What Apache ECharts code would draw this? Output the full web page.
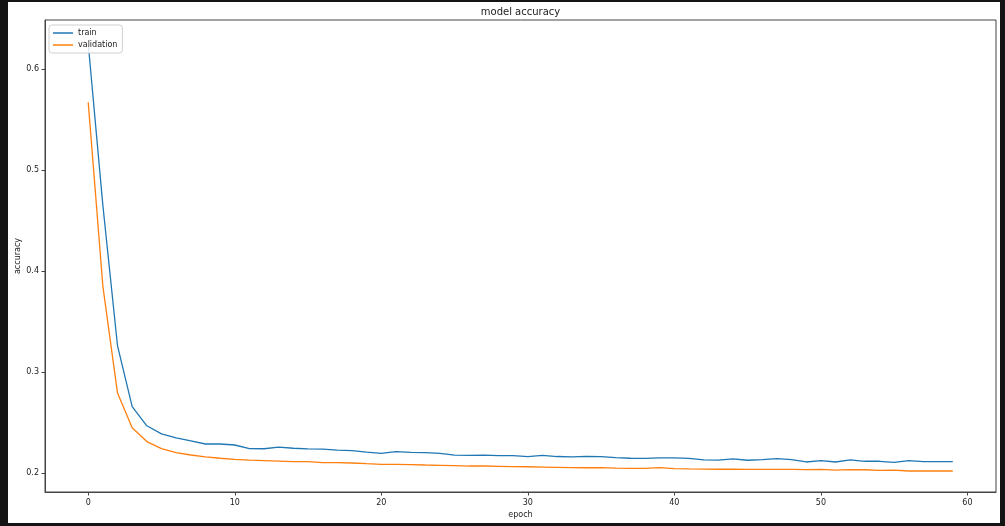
<!DOCTYPE html>
<html>
<head>
<meta charset="utf-8">
<script src="https://cdn.jsdelivr.net/npm/echarts@6/dist/echarts.min.js"></script>
<style>
  html, body { margin: 0; padding: 0; background: #141414; }
  #chart { position: absolute; left: 8px; top: 2px; width: 992px; height: 521px; background: #fff; }
</style>
</head>
<body>
<div id="chart"></div>
<script>
// model accuracy per epoch
var epochs = [];
for (var i = 0; i < 60; i++) epochs.push(i);

var train = [
  0.625, 0.465, 0.326, 0.266, 0.247, 0.239, 0.235, 0.232, 0.229, 0.229,
  0.228, 0.2245, 0.2243, 0.226, 0.2248, 0.2241, 0.224, 0.223, 0.2225, 0.221,
  0.2197, 0.2214, 0.2208, 0.2204, 0.2198, 0.2179, 0.2178, 0.218, 0.2175, 0.2174,
  0.2166, 0.2177, 0.2166, 0.2163, 0.2168, 0.2165, 0.2156, 0.2149, 0.2148, 0.2152,
  0.2152, 0.2148, 0.2132, 0.213, 0.2142, 0.2129, 0.2136, 0.2146, 0.2136, 0.2112,
  0.2125, 0.2112, 0.2132, 0.2119, 0.2119, 0.2109, 0.2125, 0.2115, 0.2115, 0.2115
];

var validation = [
  0.567, 0.385, 0.2794, 0.245, 0.2314, 0.2245, 0.2205, 0.2181, 0.2162, 0.2149,
  0.2137, 0.213, 0.2125, 0.212, 0.2115, 0.2115, 0.2105, 0.2105, 0.2102, 0.2095,
  0.2089, 0.2089, 0.2086, 0.2082, 0.2079, 0.2076, 0.2072, 0.2072, 0.2069, 0.2066,
  0.2065, 0.2062, 0.2059, 0.2056, 0.2055, 0.2056, 0.2051, 0.2049, 0.2049, 0.2056,
  0.2046, 0.2043, 0.2042, 0.204, 0.204, 0.2039, 0.2039, 0.2038, 0.2038, 0.2036,
  0.2038, 0.2032, 0.2036, 0.2035, 0.2029, 0.2032, 0.2023, 0.2023, 0.2023, 0.2023
];

var xTicks = [0, 10, 20, 30, 40, 50, 60];
var yTicks = [0.2, 0.3, 0.4, 0.5, 0.6];

function pairs(ys) {
  return epochs.map(function (x, k) { return [x, ys[k]]; });
}

var axisColor = '#444';
var font = 'DejaVu Sans';

var chart = echarts.init(document.getElementById('chart'), null, { renderer: 'canvas' });

var option = {
  animation: false,
  textStyle: { fontFamily: font },
  graphic: [
    {
      type: 'text',
      x: 512.5,
      y: 10,
      style: {
        text: 'model accuracy',
        fontFamily: font,
        fontSize: 10,
        fill: '#222',
        textAlign: 'center',
        textVerticalAlign: 'middle'
      }
    }
  ],
  legend: {
    orient: 'vertical',
    left: 41,
    top: 23,
    icon: 'rect',
    itemWidth: 20,
    itemHeight: 1.5,
    itemGap: 4,
    padding: [4, 5, 4, 4],
    borderColor: '#d0d0d0',
    borderWidth: 1,
    borderRadius: 3,
    backgroundColor: 'rgba(255,255,255,0.85)',
    textStyle: { fontFamily: font, fontSize: 8, color: '#222' },
    data: ['train', 'validation']
  },
  grid: {
    left: 37,
    top: 18,
    right: 4,
    bottom: 31,
    outerBoundsMode: 'none',
    containLabel: false,
    show: true,
    borderColor: axisColor,
    borderWidth: 1,
    backgroundColor: 'transparent'
  },
  xAxis: {
    type: 'value',
    min: -2.95,
    max: 61.95,
    name: 'epoch',
    nameLocation: 'middle',
    nameGap: 19,
    nameMoveOverlap: false,
    nameTextStyle: { fontFamily: font, fontSize: 8, color: '#222' },
    axisLine: { show: true, onZero: false, lineStyle: { color: axisColor } },
    axisTick: { show: true, length: 3.5, customValues: xTicks, lineStyle: { color: axisColor } },
    axisLabel: { customValues: xTicks, margin: 7, fontSize: 8, color: '#222', fontFamily: font },
    splitLine: { show: false }
  },
  yAxis: {
    type: 'value',
    min: 0.1815,
    max: 0.6485,
    name: 'accuracy',
    nameLocation: 'middle',
    nameGap: 23,
    nameMoveOverlap: false,
    nameTextStyle: { fontFamily: font, fontSize: 8, color: '#222' },
    axisLine: { show: true, onZero: false, lineStyle: { color: axisColor } },
    axisTick: { show: true, length: 3.5, customValues: yTicks, lineStyle: { color: axisColor } },
    axisLabel: {
      customValues: yTicks,
      margin: 6,
      fontSize: 8,
      color: '#222',
      fontFamily: font,
      formatter: function (v) { return v.toFixed(1); }
    },
    splitLine: { show: false }
  },
  series: [
    {
      name: 'train',
      type: 'line',
      symbol: 'none',
      color: '#1f77b4',
      lineStyle: { width: 1.3, color: '#1f77b4' },
      data: pairs(train)
    },
    {
      name: 'validation',
      type: 'line',
      symbol: 'none',
      color: '#ff7f0e',
      lineStyle: { width: 1.3, color: '#ff7f0e' },
      data: pairs(validation)
    }
  ]
};

chart.setOption(option);
</script>
</body>
</html>
